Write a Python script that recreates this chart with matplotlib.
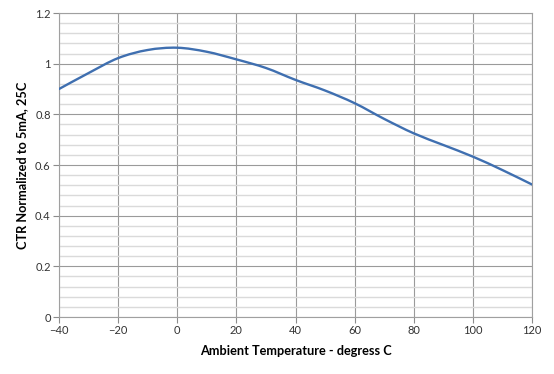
import matplotlib
matplotlib.use("Agg")
import matplotlib.pyplot as plt
from matplotlib.path import Path
from matplotlib.patches import PathPatch
import numpy as np

# ambient temperature (C) and normalized CTR
temps = [-40, -30, -20, -10, 0, 10, 20, 30, 40, 50, 60, 70, 80, 90, 100, 110, 120]
ctr = [0.90, 0.963, 1.022, 1.054, 1.063, 1.047, 1.017, 0.983, 0.936, 0.894,
       0.844, 0.782, 0.725, 0.679, 0.633, 0.58, 0.523]

x_ticks = [-40, -20, 0, 20, 40, 60, 80, 100, 120]
y_ticks = [0, 0.2, 0.4, 0.6, 0.8, 1, 1.2]
y_tick_labels = ['0', '0.2', '0.4', '0.6', '0.8', '1', '1.2']

plt.rcParams['font.family'] = ['Lato', 'DejaVu Sans']


def smooth_path(xs, ys):
    # excel-style smoothed line: bezier segments through the points
    p = np.column_stack([xs, ys]).astype(float)
    verts = [p[0]]
    codes = [Path.MOVETO]
    n = len(p)
    for i in range(n - 1):
        p0 = p[i - 1] if i > 0 else p[i]
        p3 = p[i + 2] if i + 2 < n else p[i + 1]
        c1 = p[i] + (p[i + 1] - p0) / 6.0
        c2 = p[i + 1] - (p3 - p[i]) / 6.0
        verts += [c1, c2, p[i + 1]]
        codes += [Path.CURVE4] * 3
    return Path(verts, codes)


fig = plt.figure(figsize=(5.54, 3.74), dpi=100)
ax = fig.add_axes([0.1065, 0.1524, 0.8538, 0.8128])

ax.add_patch(PathPatch(smooth_path(temps, ctr), facecolor='none',
                       edgecolor='#3f6fb0', linewidth=1.7, capstyle='round',
                       joinstyle='round', zorder=3))

ax.set_xlim(-40, 120)
ax.set_ylim(0, 1.2)
ax.set_xticks(x_ticks)
ax.set_yticks(y_ticks)
ax.set_yticklabels(y_tick_labels)
ax.set_yticks(np.arange(0, 1.2001, 0.04), minor=True)

ax.grid(which='major', color='#9a9a9a', linewidth=0.8)
ax.grid(which='minor', axis='y', color='#dadada', linewidth=1.0)
ax.set_axisbelow(True)

for s in ax.spines.values():
    s.set_color('#a0a0a0')
    s.set_linewidth(0.8)

ax.tick_params(which='major', direction='out', length=4, color='#8c8c8c',
               labelsize=8, labelcolor='#333333', pad=2)
ax.tick_params(which='minor', length=0)

ax.set_xlabel('Ambient Temperature - degress C', fontsize=9.2, fontweight='bold',
              labelpad=6)
ax.set_ylabel('CTR Normalized to 5mA, 25C', fontsize=9.2, fontweight='bold',
              labelpad=5)

fig.savefig('out.png', dpi=100)
